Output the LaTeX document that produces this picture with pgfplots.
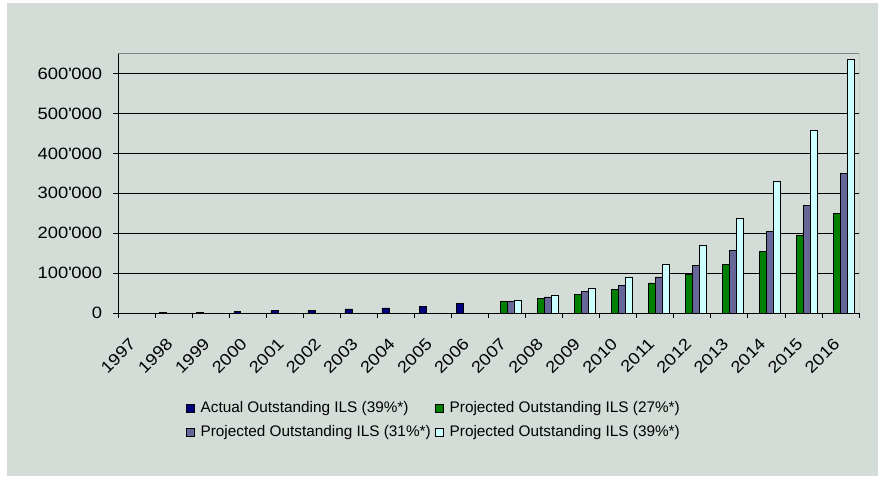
\documentclass[border=0pt]{standalone}
\usepackage{fontspec}
\setmainfont{Liberation Sans}
\newfontfamily\tickfont{Liberation Sans}[FakeStretch=1.12]
\usepackage{pgfplots}
\pgfplotsset{compat=1.18}
\definecolor{bgc}{RGB}{211,220,214}
\definecolor{cact}{RGB}{0,0,128}
\definecolor{cg}{RGB}{0,128,0}
\definecolor{cp}{RGB}{102,102,153}
\definecolor{cl}{RGB}{204,255,255}
\newcommand{\tf}{\tickfont\fontsize{12.3}{14}\selectfont}
\newcommand{\yl}[1]{{\tf #1\textquotesingle000}}
\begin{document}
\fontsize{12}{14}\selectfont
\begin{tikzpicture}
\path[fill=white] (-88.5pt,-122.25pt) rectangle (570pt,234.75pt);
\fill[bgc] (-83.25pt,-122.25pt) rectangle (570pt,232.5pt);
\begin{axis}[
  at={(0pt,0pt)}, anchor=south west,
  scale only axis, width=555.75pt, height=194.55pt,
  xmin=-0.5, xmax=19.5, ymin=0, ymax=650000,
  scaled y ticks=false,
  ybar, bar width=0.1875,
  axis x line*=bottom, axis y line*=left,
  axis line style={black, line width=0.6pt},
  xtick={-0.5,0.5,1.5,2.5,3.5,4.5,5.5,6.5,7.5,8.5,9.5,10.5,11.5,12.5,13.5,14.5,15.5,16.5,17.5,18.5,19.5},
  xticklabels={},
  extra x ticks={0,1,2,3,4,5,6,7,8,9,10,11,12,13,14,15,16,17,18,19},
  extra x tick labels={{\tf 1997},{\tf 1998},{\tf 1999},{\tf 2000},{\tf 2001},{\tf 2002},{\tf 2003},{\tf 2004},{\tf 2005},{\tf 2006},{\tf 2007},{\tf 2008},{\tf 2009},{\tf 2010},{\tf 2011},{\tf 2012},{\tf 2013},{\tf 2014},{\tf 2015},{\tf 2016}},
  extra x tick style={major tick length=0pt, grid=none, xticklabel style={font=\tf, xshift=-6pt, yshift=-18pt, rotate=45, anchor=north east, inner sep=0pt}},
  ytick={0,100000,200000,300000,400000,500000,600000},
  yticklabels={{\tf 0},\yl{100},\yl{200},\yl{300},\yl{400},\yl{500},\yl{600}},
  yticklabel style={font=\tf, xshift=-4pt},
  tick align=outside,
  major tick length=3.75pt,
  tick style={black, line width=0.6pt},
  ymajorgrids, grid style={black, line width=0.6pt},
  legend columns=2,
  legend cell align=left,
  legend image code/.code={\draw[#1, draw=black, line width=0.4pt] (0pt,-3pt) rectangle (6pt,3pt); \path[draw=none,fill=none] (0pt,0pt) rectangle (9pt,0pt);},
  legend style={draw=none, fill=none, at={(0.091,-0.33)}, anchor=north west, inner sep=0pt,
    font=\fontsize{11.5}{13}\selectfont, row sep=4pt,
    /tikz/every even column/.append style={column sep=1pt}},
]
\addplot[fill=cact, draw=black, line width=0.4pt, bar shift=-0.28125] coordinates {
  (1,1500) (2,2000) (3,3500) (4,6000) (5,6500) (6,10500) (7,13000) (8,17500) (9,24000)};
\addlegendentry{Actual Outstanding ILS (39\%*)}
\addplot[fill=cg, draw=black, line width=0.4pt, bar shift=-0.09375] coordinates {
  (10,29000) (11,37000) (12,47000) (13,60000) (14,75500) (15,96500) (16,122000) (17,155000) (18,196000) (19,249000)};
\addlegendentry{Projected Outstanding ILS (27\%*)}
\addplot[fill=cp, draw=black, line width=0.4pt, bar shift=0.09375] coordinates {
  (10,30000) (11,40600) (12,53300) (13,69000) (14,90500) (15,118500) (16,157000) (17,204500) (18,269500) (19,349000)};
\addlegendentry{Projected Outstanding ILS (31\%*)}
\addplot[fill=cl, draw=black, line width=0.4pt, bar shift=0.28125] coordinates {
  (10,32500) (11,45000) (12,62500) (13,88500) (14,122500) (15,170500) (16,237000) (17,330500) (18,458000) (19,636000)};
\addlegendentry{Projected Outstanding ILS (39\%*)}
\draw[gray, line width=0.6pt] (rel axis cs:0,1) -- (rel axis cs:1,1) -- (rel axis cs:1,0);
\end{axis}
\end{tikzpicture}
\end{document}
